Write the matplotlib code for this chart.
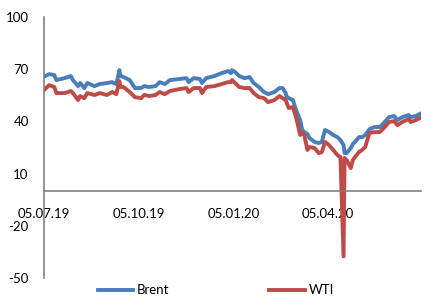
import pandas as pd
import matplotlib
matplotlib.use("Agg")
import matplotlib.pyplot as plt
import matplotlib.dates as mdates

plt.rcParams['font.family'] = ['Lato', 'DejaVu Sans']
plt.rcParams['axes.unicode_minus'] = False

# daily closes (USD/bbl)
dates = [
    "2019-07-05", "2019-07-10", "2019-07-15", "2019-07-17", "2019-07-25",
    "2019-07-31", "2019-08-02", "2019-08-07", "2019-08-09", "2019-08-13",
    "2019-08-16", "2019-08-23", "2019-08-28", "2019-09-04", "2019-09-09",
    "2019-09-13", "2019-09-16", "2019-09-17", "2019-09-20", "2019-09-26",
    "2019-10-01", "2019-10-07", "2019-10-10", "2019-10-15", "2019-10-21",
    "2019-10-25", "2019-10-30", "2019-11-04", "2019-11-13", "2019-11-20",
    "2019-11-22", "2019-11-27", "2019-12-03", "2019-12-05", "2019-12-09",
    "2019-12-17", "2019-12-24", "2019-12-30", "2020-01-02", "2020-01-03",
    "2020-01-06", "2020-01-10", "2020-01-15", "2020-01-20", "2020-01-24",
    "2020-01-29", "2020-02-03", "2020-02-07", "2020-02-13", "2020-02-18",
    "2020-02-21", "2020-02-24", "2020-02-25", "2020-02-27", "2020-03-02",
    "2020-03-05", "2020-03-09", "2020-03-11", "2020-03-13", "2020-03-16",
    "2020-03-18", "2020-03-23", "2020-03-27", "2020-03-30", "2020-04-02",
    "2020-04-06", "2020-04-10", "2020-04-14", "2020-04-17", "2020-04-20",
    "2020-04-21", "2020-04-23", "2020-04-27", "2020-04-29", "2020-05-01",
    "2020-05-05", "2020-05-08", "2020-05-11", "2020-05-15", "2020-05-20",
    "2020-05-25", "2020-05-29", "2020-06-03", "2020-06-08", "2020-06-11",
    "2020-06-16", "2020-06-22", "2020-06-24", "2020-06-29", "2020-07-03",
]
brent = [
    65.7, 67.2, 66.7, 63.8, 64.9,
    66.1, 63.8, 60.3, 62.1, 59.2,
    62.1, 60.3, 61.5, 62.1, 62.6,
    61.5, 69.5, 66.1, 65.5, 63.8,
    59.2, 59.2, 60.3, 59.8, 60.3,
    62.6, 61.5, 63.8, 64.4, 64.9,
    62.6, 64.9, 64.4, 62.1, 64.9,
    66.1, 67.8, 69.0, 67.8, 69.5,
    68.4, 66.1, 64.9, 65.5, 62.1,
    59.8, 56.9, 55.7, 56.9, 59.2,
    59.2, 56.3, 54.0, 53.4, 52.3,
    46.6, 40.8, 35.1, 33.9, 32.8,
    30.5, 28.2, 27.6, 28.2, 35.1,
    33.9, 32.2, 31.0, 29.3, 26.4,
    21.8, 21.8, 24.7, 27.0, 28.2,
    31.0, 31.0, 32.2, 35.5, 36.8,
    36.8, 39.1, 42.5, 43.1, 40.8,
    42.5, 43.7, 42.5, 43.1, 44.3,
]
wti = [
    58.0, 60.9, 59.8, 56.3, 56.3,
    57.5, 56.3, 52.3, 54.6, 53.4,
    56.3, 55.2, 56.3, 55.2, 56.9,
    55.7, 63.2, 59.8, 59.8, 56.9,
    54.0, 53.4, 55.2, 54.6, 55.2,
    56.9, 55.7, 57.5, 58.6, 59.2,
    56.9, 59.2, 59.2, 56.3, 59.8,
    60.3, 61.5, 62.6, 62.6, 63.8,
    62.1, 59.8, 59.2, 59.2, 56.3,
    54.0, 53.4, 51.1, 52.3, 54.6,
    53.4, 52.3, 50.6, 47.7, 48.3,
    42.5, 32.2, 33.3, 32.2, 23.6,
    25.3, 24.7, 21.8, 22.4, 28.2,
    26.4, 23.6, 20.7, 19.5, -37.6,
    19.0, 17.8, 13.2, 17.8, 19.5,
    22.4, 23.6, 25.3, 33.3, 33.9,
    33.9, 36.2, 39.7, 40.2, 37.9,
    39.7, 41.4, 39.7, 40.8, 42.0,
]

df = pd.DataFrame({"Brent": brent, "WTI": wti}, index=pd.to_datetime(dates))

fig = plt.figure(figsize=(4.27, 3.05), dpi=100)
ax = fig.add_axes([0.103, 0.0885, 0.883, 0.8555])

ax.plot(df.index, df["Brent"], color="#4A7EBB", lw=2.8, label="Brent")
ax.plot(df.index, df["WTI"], color="#BE4B48", lw=2.8, label="WTI")

ax.set_ylim(-50, 100)
ax.set_yticks([100, 70, 40, 10, -20, -50])
ax.set_xlim(pd.Timestamp("2019-07-05"), pd.Timestamp("2020-07-04"))
ax.set_xticks(pd.to_datetime(["2019-07-05", "2019-10-05", "2020-01-05", "2020-04-05"]))
ax.xaxis.set_major_formatter(mdates.DateFormatter("%d.%m.%y"))

for side in ["top", "right"]:
    ax.spines[side].set_visible(False)
ax.spines["left"].set_color("#808080")
ax.spines["left"].set_linewidth(1.2)
ax.spines["bottom"].set_position(("data", 0))
ax.spines["bottom"].set_color("#808080")
ax.spines["bottom"].set_linewidth(1.2)

ax.tick_params(axis="y", length=0, pad=11, labelsize=9.5)
ax.tick_params(axis="x", length=0, pad=12, labelsize=9.5)

fig.legend(loc="lower center", bbox_to_anchor=(0.505, -0.01), ncol=2,
           frameon=False, fontsize=9.5, handlelength=2.7, handletextpad=0.25,
           columnspacing=7.6)

fig.savefig("out.png", dpi=100)
